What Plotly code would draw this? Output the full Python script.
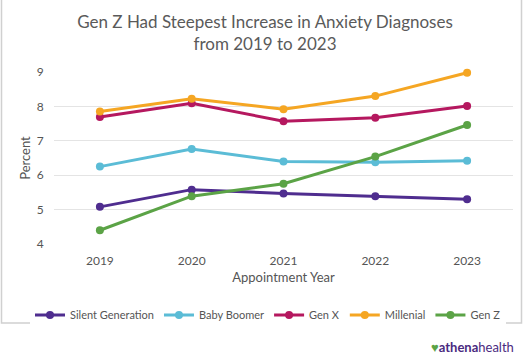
import plotly.graph_objects as go

years = ["2019", "2020", "2021", "2022", "2023"]
series_names = ["Silent Generation", "Baby Boomer", "Gen X", "Millenial", "Gen Z"]
silent = [5.08, 5.58, 5.47, 5.39, 5.30]
boomer = [6.25, 6.76, 6.40, 6.38, 6.42]
genx = [7.69, 8.09, 7.57, 7.67, 8.01]
millenial = [7.85, 8.22, 7.92, 8.30, 8.98]
genz = [4.40, 5.39, 5.75, 6.54, 7.46]
values = [silent, boomer, genx, millenial, genz]
colors = ["#4f2d8f", "#5bbcd6", "#b5185f", "#f5a623", "#5ba346"]

FONT = "Lato"
TXT = "#555555"

fig = go.Figure()
for name, vals, c in zip(series_names, values, colors):
    fig.add_trace(go.Scatter(
        x=years, y=vals, name=name, mode="lines+markers",
        line=dict(color=c, width=3), marker=dict(color=c, size=8),
        cliponaxis=False,
    ))

L, R, T, B = 54, 17, 72, 116
W, H = 530, 360
pw, ph = W - L - R, H - T - B
def px(x):
    return (x - L) / pw
def py(y):
    return (H - B - y) / ph

fig.update_layout(
    width=W, height=H,
    margin=dict(l=L, r=R, t=T, b=B, autoexpand=False),
    paper_bgcolor="white", plot_bgcolor="white",
    font=dict(family=FONT, color=TXT, size=12),
    title=dict(text="Gen Z Had Steepest Increase in Anxiety Diagnoses<br>from 2019 to 2023",
               x=0.5, xanchor="center", y=1 - 28 / H, yanchor="top",
               font=dict(family=FONT, size=17, color="#5a5a5a")),
    xaxis=dict(title=dict(text="Appointment Year", font=dict(size=13, color=TXT), standoff=5),
               showgrid=False, showline=False, zeroline=False, ticks="outside", ticklen=6,
               tickcolor="rgba(0,0,0,0)",
               range=[-0.5, 4.5], tickfont=dict(size=12, color=TXT)),
    yaxis=dict(title=dict(text="Percent", font=dict(size=13, color=TXT), standoff=3),
               range=[4, 9], dtick=1, showgrid=True, gridcolor="#e4e4e4", gridwidth=1,
               zeroline=False, showline=False, ticks="outside", ticklen=7,
               tickcolor="rgba(0,0,0,0)", tickfont=dict(size=12, color=TXT)),
    legend=dict(orientation="h", x=px(30), xanchor="left", y=py(315), yanchor="middle",
                font=dict(size=11, color=TXT), itemwidth=30, tracegroupgap=0),
    showlegend=True,
)

fig.add_shape(type="rect", xref="paper", yref="paper",
              x0=px(1.5), x1=px(521.5), y0=py(323), y1=py(-2),
              line=dict(color="#d0d0d0", width=1.5), fillcolor="rgba(0,0,0,0)", layer="below")

fig.add_annotation(xref="paper", yref="paper", x=px(516), y=py(347), xanchor="right", yanchor="middle",
                   text="<span style='color:#5ba346'>♥</span><b>athena</b>health", showarrow=False,
                   font=dict(family="Lato", size=13, color="#4a2a80"))

fig.write_html("out.html", config={"displayModeBar": False},
               post_script="document.body.style.margin='0';")
